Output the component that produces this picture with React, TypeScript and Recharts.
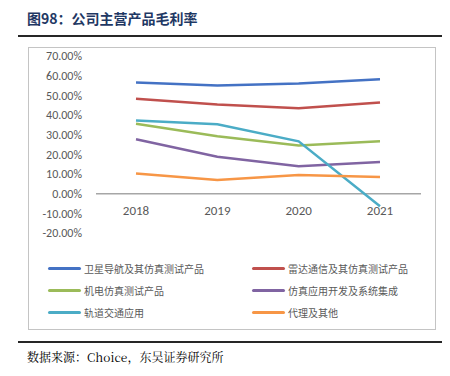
import React from 'react';
import { LineChart, Line, XAxis, YAxis, ReferenceLine, Legend } from 'recharts';

const years = ['2018', '2019', '2020', '2021'];
const satellite = [0.565, 0.55, 0.56, 0.582];
const radar = [0.483, 0.453, 0.434, 0.463];
const electro = [0.355, 0.292, 0.245, 0.266];
const simApp = [0.277, 0.188, 0.139, 0.161];
const railway = [0.372, 0.353, 0.266, -0.064];
const agency = [0.102, 0.07, 0.095, 0.085];
const yTicks = [-0.2, -0.1, 0, 0.1, 0.2, 0.3, 0.4, 0.5, 0.6, 0.7];

const seriesList = [
  { key: 'satellite', name: '卫星导航及其仿真测试产品', color: '#4472C4', values: satellite },
  { key: 'radar', name: '雷达通信及其仿真测试产品', color: '#C0504D', values: radar },
  { key: 'electro', name: '机电仿真测试产品', color: '#9BBB59', values: electro },
  { key: 'simApp', name: '仿真应用开发及系统集成', color: '#8064A2', values: simApp },
  { key: 'railway', name: '轨道交通应用', color: '#4BACC6', values: railway },
  { key: 'agency', name: '代理及其他', color: '#F79646', values: agency },
];

const data = years.map((year, i) => {
  const row: Record<string, string | number> = { year };
  seriesList.forEach((s) => { row[s.key] = s.values[i]; });
  return row;
});

const FONT = 'Calibri, Carlito, "Liberation Sans", "Noto Sans CJK SC", sans-serif';

const YearTick = (props: any) => {
  const { x, y, payload } = props;
  return (
    <text x={x} y={y - 23} textAnchor="middle" dominantBaseline="central" fill="#595959" fontSize={13} fontFamily={FONT}>
      {payload.value}
    </text>
  );
};

const LegendBox = () => (
  <div style={{ display: 'grid', gridTemplateColumns: '204px 180px', rowGap: 8, paddingLeft: 19, paddingTop: 5 }}>
    {seriesList.map((s) => (
      <div key={s.key} style={{ display: 'flex', alignItems: 'center', height: 14 }}>
        <span style={{ display: 'inline-block', width: 33, height: 3, background: s.color, borderRadius: 2, marginRight: 3 }} />
        <span style={{ fontSize: 10, color: '#595959', fontFamily: '"Noto Sans CJK SC", sans-serif', whiteSpace: 'nowrap' }}>{s.name}</span>
      </div>
    ))}
  </div>
);

export default function App() {
  return (
    <div style={{ position: 'relative', width: 450, height: 376, margin: -8, background: '#fff', overflow: 'hidden' }}>
      <div style={{ position: 'absolute', left: 27, top: 8, fontSize: 14, fontWeight: 'bold', color: '#1F3864', fontFamily: '"Noto Sans CJK SC", sans-serif' }}>
        图98：公司主营产品毛利率
      </div>
      <div style={{ position: 'absolute', left: 18, top: 35, width: 427, height: 2, background: '#262626' }} />
      <div style={{ position: 'absolute', left: 28, top: 47, width: 406, height: 281, border: '1px solid #c4c4c4' }}>
        <LineChart width={406} height={281} data={data} margin={{ top: 8, right: 14, bottom: 3, left: 0 }}>
          <XAxis
            dataKey="year"
            axisLine={false}
            tickLine={false}
            tickSize={0}
            tickMargin={0}
            height={23}
            tick={<YearTick />}
            interval={0}
            padding={{ left: 40, right: 41 }}
          />
          <YAxis
            domain={[-0.2, 0.7]}
            ticks={yTicks}
            interval={0}
            width={67}
            axisLine={false}
            tickLine={false}
            tickSize={0}
            tickMargin={14}
            tick={{ fill: '#595959', fontSize: 12, fontFamily: FONT }}
            tickFormatter={(v: number) => `${(v * 100).toFixed(2)}%`}
          />
          <ReferenceLine y={0} stroke="#a6a6a6" strokeWidth={1.5} />
          {seriesList.map((s) => (
            <Line
              key={s.key}
              type="linear"
              dataKey={s.key}
              name={s.name}
              stroke={s.color}
              strokeWidth={2.5}
              dot={false}
              isAnimationActive={false}
            />
          ))}
          <Legend verticalAlign="bottom" height={70} content={<LegendBox />} />
        </LineChart>
      </div>
      <div style={{ position: 'absolute', left: 18, top: 341, width: 427, height: 2, background: '#262626' }} />
      <div style={{ position: 'absolute', left: 27, top: 348, fontSize: 12, color: '#000', fontFamily: '"Noto Serif CJK SC", "Liberation Serif", "Noto Sans CJK SC", serif' }}>
        数据来源：Choice，东吴证券研究所
      </div>
    </div>
  );
}
